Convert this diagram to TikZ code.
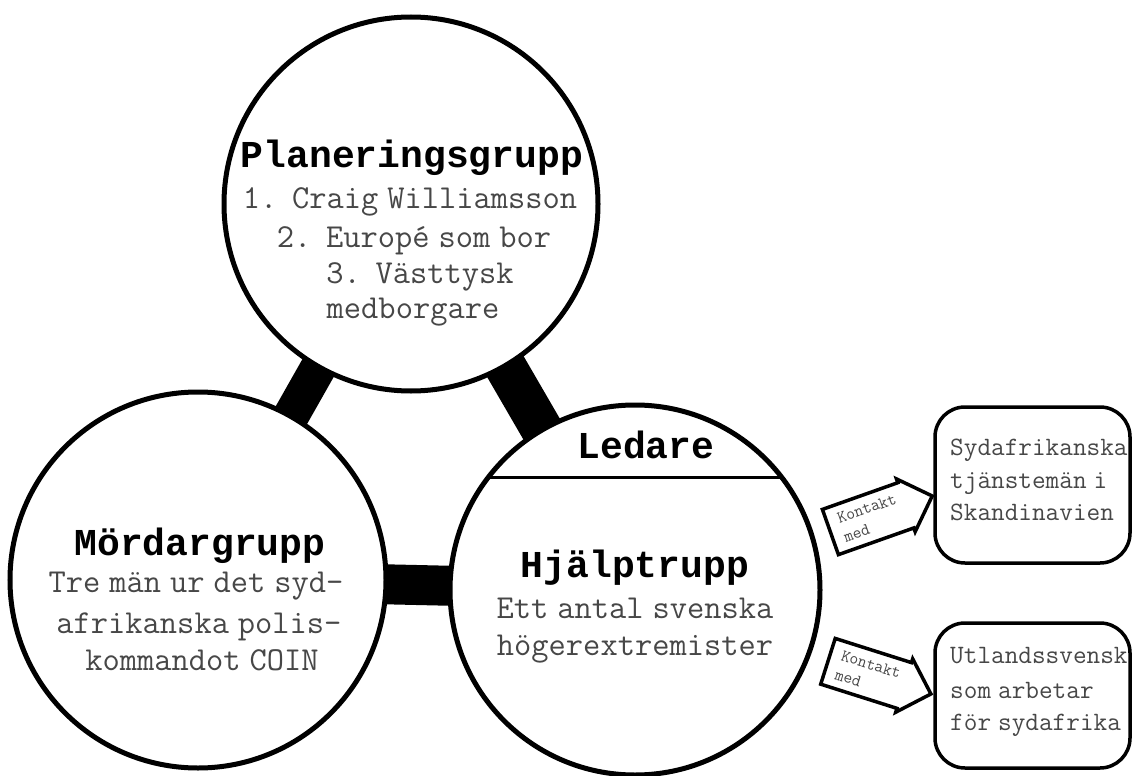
\documentclass[tikz,border=0pt]{standalone}
\usepackage{fontspec}
\setmainfont{Liberation Mono}
\usetikzlibrary{shapes.arrows,backgrounds}
\newcommand\bodyfont{\ttfamily\fontsize{33.5}{38}\selectfont\spaceskip=9pt\relax}
\newcommand\boxfont{\ttfamily\fontsize{26.5}{30}\selectfont\spaceskip=7pt\relax}
\newcommand\kfont{\ttfamily\fontsize{17}{20}\selectfont}
\tikzset{
  circ/.style={circle, draw, fill=white, line width=5pt, inner sep=0pt},
  bar/.style={line width=#1, draw=black},
  head/.style={font=\bfseries\fontsize{38}{40}\selectfont, inner sep=0pt, anchor=base},
  body/.style={font=\bodyfont, text=black!72, inner sep=0pt, anchor=base},
  boxtxt/.style={font=\boxfont, text=black!72, inner sep=0pt, anchor=base west},
  rbox/.style={draw, rounded corners=30pt, line width=3.5pt, fill=white, inner sep=0pt},
  kontakt/.style={single arrow, draw, line width=3.5pt, fill=white,
    single arrow head extend=4pt, minimum height=108pt, inner xsep=3pt, inner ysep=7pt,
    align=left, font=\kfont, text=black!72}
}
\begin{document}
\begin{tikzpicture}[x=1pt,y=-1pt]
\useasboundingbox (0,0) rectangle (1133,776);
% circles
\node[circ, minimum size=374pt] (top) at (411,204) {};
\node[circ, minimum size=376pt] (left) at (198,580) {};
\node[circ, minimum size=370pt] (right) at (635,590) {};
% connecting bars
\begin{scope}[on background layer]
  \fill[white] (0,0) rectangle (1133,776);
  \draw[bar=36pt] (top.center) -- (left.center);
  \draw[bar=42pt] (top.center) -- (right.center);
  \draw[bar=40pt] (left.center) -- (right.center);
\end{scope}
% Planeringsgrupp
\node[head] (ph) at (412,167) {Planeringsgrupp};
\node[body] (p1) at (410,208) {1. Craig Williamsson};
\node[body] (p2) at (414,247) {2. Europé som bor};
\node[body] (p3) at (420,283) {3. Västtysk};
\node[body] (p4) at (413,318) {medborgare};
% Mördargrupp
\node[head] (mh) at (200,555) {Mördargrupp};
\node[body] (m1) at (196,592) {Tre män ur det syd-};
\node[body] (m2) at (199,633) {afrikanska polis-};
\node[body] (m3) at (202,670) {kommandot COIN};
% Ledare / Hjälptrupp
\coordinate (ledL) at (489,477);
\coordinate (ledR) at (781,477);
\draw[line width=3pt] (ledL) -- (ledR);
\node[head] (lh) at (646,458) {Ledare};
\node[head] (hh) at (635,577) {Hjälptrupp};
\node[body] (h1) at (635,618) {Ett antal svenska};
\node[body] (h2) at (635,655) {högerextremister};
% right boxes
\node[rbox, minimum width=195pt, minimum height=156pt] (b1) at (1032.5,485) {};
\node[boxtxt] (b1a) at (950,455) {Sydafrikanska};
\node[boxtxt] (b1b) at (950,488) {tjänstemän i};
\node[boxtxt] (b1c) at (950,520) {Skandinavien};
\node[rbox, minimum width=195pt, minimum height=145pt] (b2) at (1032.5,695.5) {};
\node[boxtxt] (b2a) at (950,663) {Utlandssvensk};
\node[boxtxt] (b2b) at (950,698) {som arbetar};
\node[boxtxt] (b2c) at (950,730) {för sydafrika};
% Kontakt med arrows
\node[kontakt, rotate=19.5] (k1) at (870,518) {Kontakt\\med};
\node[kontakt, rotate=-17.6] (k2) at (868,674) {Kontakt\\med};
\end{tikzpicture}
\end{document}
